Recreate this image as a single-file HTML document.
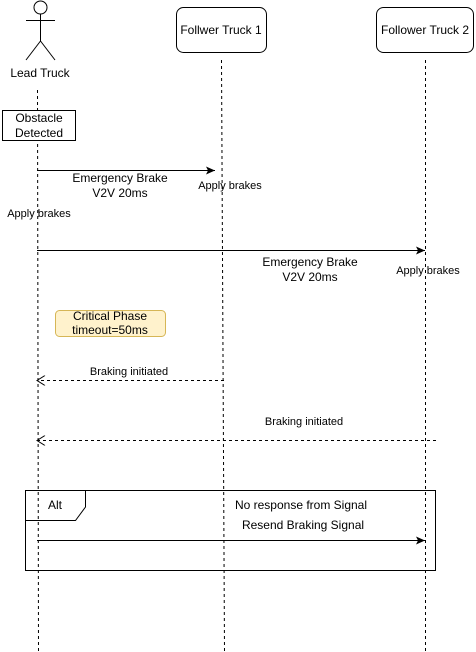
<!DOCTYPE html>
<html><head><meta charset="utf-8"><style>
body{margin:0;background:#fff;}
svg{display:block;font-family:"Liberation Sans",Arial,sans-serif;}
</style></head><body>
<svg width="476" height="652" viewBox="0 0 476 652" xmlns="http://www.w3.org/2000/svg">
<defs>
<marker id="a" markerWidth="10" markerHeight="8" refX="9" refY="4" orient="auto" markerUnits="userSpaceOnUse"><path d="M0,0 L9,4 L0,8 L2,4 Z" fill="#000"/></marker>
<marker id="o" markerWidth="10" markerHeight="10" refX="9" refY="5" orient="auto" markerUnits="userSpaceOnUse"><path d="M1,0 L9,5 L1,10" fill="none" stroke="#000"/></marker>
</defs>
<g stroke="#000" fill="none">
<circle cx="40.5" cy="7.5" r="6.5" fill="#fff"/>
<line x1="40.5" y1="14" x2="40.5" y2="41"/>
<line x1="26" y1="20.5" x2="55" y2="20.5"/>
<line x1="40.5" y1="41" x2="26" y2="60"/>
<line x1="40.5" y1="41" x2="55" y2="60"/>
<line x1="37.5" y1="90" x2="38.5" y2="652" stroke-dasharray="3,3"/>
<line x1="221.5" y1="60" x2="224.5" y2="652" stroke-dasharray="3,3"/>
<line x1="425.5" y1="60" x2="425.5" y2="652" stroke-dasharray="3,3"/>
<rect x="176.5" y="7.5" width="90" height="45" rx="7" fill="#fff"/>
<rect x="376.5" y="7.5" width="97" height="45" rx="7" fill="#fff"/>
<rect x="2.5" y="110.5" width="73" height="30" fill="#fff"/>
<line x1="37" y1="170.5" x2="215" y2="170.5" marker-end="url(#a)"/>
<line x1="37" y1="250.5" x2="425" y2="250.5" marker-end="url(#a)"/>
<rect x="55.5" y="310.5" width="110" height="26" rx="4" fill="#fff2cc" stroke="#d6b656"/>
<line x1="224" y1="380.5" x2="37" y2="380.5" stroke-dasharray="3,3" marker-end="url(#o)"/>
<line x1="436" y1="440.5" x2="37" y2="440.5" stroke-dasharray="3,3" marker-end="url(#o)"/>
<rect x="25.5" y="490.5" width="410" height="80"/>
<path d="M25.5,520.5 L75.5,520.5 L85.5,507 L85.5,490.5"/>
<line x1="37" y1="540.5" x2="425" y2="540.5" marker-end="url(#a)"/>
</g>
<g font-size="12" fill="#000" text-anchor="middle">
<text x="40" y="77">Lead Truck</text>
<text x="221" y="34">Follwer Truck 1</text>
<text x="425" y="34">Follower Truck 2</text>
<text x="39" y="122">Obstacle</text>
<text x="39" y="137">Detected</text>
<text x="120" y="182">Emergency Brake</text>
<text x="120" y="197">V2V 20ms</text>
<text x="310" y="266">Emergency Brake</text>
<text x="310" y="281">V2V 20ms</text>
<text x="110" y="320">Critical Phase</text>
<text x="110" y="334">timeout=50ms</text>
<text x="55" y="509">Alt</text>
<text x="301" y="509">No response from Signal</text>
<text x="303" y="529">Resend Braking Signal</text>
</g>
<g font-size="11" fill="#000" text-anchor="middle">
<text x="230" y="189">Apply brakes</text>
<text x="39" y="217">Apply brakes</text>
<text x="428" y="274">Apply brakes</text>
<text x="129" y="375">Braking initiated</text>
<text x="304" y="425">Braking initiated</text>
</g>
</svg>
</body></html>
